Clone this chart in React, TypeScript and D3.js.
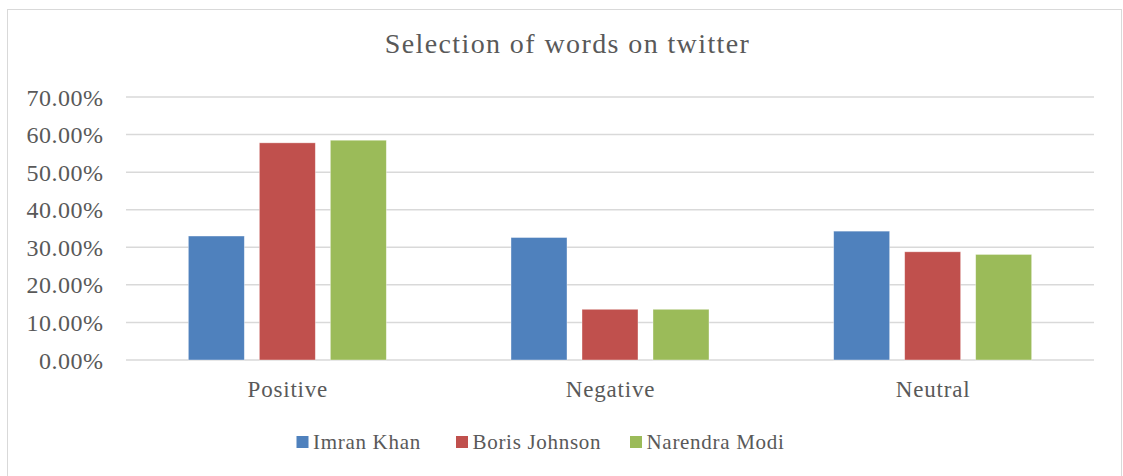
import React from "react";
import * as d3 from "d3";

const categories = ["Positive", "Negative", "Neutral"];
const seriesNames = ["Imran Khan", "Boris Johnson", "Narendra Modi"];
const imranKhan = [0.33, 0.326, 0.343];
const borisJohnson = [0.578, 0.135, 0.288];
const narendraModi = [0.585, 0.135, 0.281];
const seriesValues = [imranKhan, borisJohnson, narendraModi];
const colors = ["#4F81BD", "#C0504D", "#9BBB59"];
const yTicks = [0, 0.1, 0.2, 0.3, 0.4, 0.5, 0.6, 0.7];
const title = "Selection of words on twitter";

const W = 1123;
const H = 476;
const plot = { left: 126, right: 1094, top: 97, bottom: 360 };
const FONT = "'Liberation Serif', serif";
const TXT = "#595959";

export default function App() {
  const y = d3.scaleLinear().domain([0, 0.7]).range([plot.bottom, plot.top]);
  const x0 = d3.scaleBand().domain(categories).range([plot.left, plot.right]).paddingInner(0).paddingOuter(0);
  const groupW = x0.bandwidth();
  const barW = 56;
  const gap = 15;
  const x1 = d3
    .scaleBand()
    .domain(seriesNames)
    .range([(groupW - (3 * barW + 2 * gap)) / 2, (groupW + (3 * barW + 2 * gap)) / 2])
    .paddingInner(gap / (barW + gap))
    .paddingOuter(0);
  const fmt = (v: number) => (v * 100).toFixed(2) + "%";

  const legendX = [296.5, 456, 630];

  return (
    <svg width={W} height={H} style={{ position: "absolute", left: 0, top: 0, background: "#fff" }}>
      <rect x={7.5} y={9.5} width={1114} height={480} fill="#fff" stroke="#d9d9d9" strokeWidth={1} />
      <text x={567.5} y={53} textAnchor="middle" fontFamily={FONT} fontSize={28} letterSpacing={1.4} fill={TXT}>
        {title}
      </text>
      {yTicks.map((t) => (
        <g key={t}>
          <line x1={plot.left} x2={plot.right} y1={y(t)} y2={y(t)} stroke="#d9d9d9" strokeWidth={1.5} />
          <text x={103.5} y={y(t) + 8.5} textAnchor="end" fontFamily={FONT} fontSize={24} letterSpacing={0.5} fill={TXT}>
            {fmt(t)}
          </text>
        </g>
      ))}
      {categories.map((c, ci) => (
        <g key={c} transform={`translate(${x0(c)},0)`}>
          {seriesNames.map((s, si) => (
            <rect
              key={s}
              x={x1(s)}
              y={y(seriesValues[si][ci])}
              width={x1.bandwidth()}
              height={plot.bottom - y(seriesValues[si][ci])}
              fill={colors[si]}
              stroke="#ffffff"
              strokeOpacity={0.5}
              strokeWidth={0.75}
            />
          ))}
          <text x={groupW / 2 + 0.5} y={397} textAnchor="middle" fontFamily={FONT} fontSize={23} letterSpacing={0.8} fill={TXT}>
            {c}
          </text>
        </g>
      ))}
      {seriesNames.map((s, si) => (
        <g key={s}>
          <rect x={legendX[si]} y={436} width={12} height={12} fill={colors[si]} />
          <text x={legendX[si] + 16.5} y={449} fontFamily={FONT} fontSize={21} letterSpacing={0.7} fill={TXT}>
            {s}
          </text>
        </g>
      ))}
    </svg>
  );
}
